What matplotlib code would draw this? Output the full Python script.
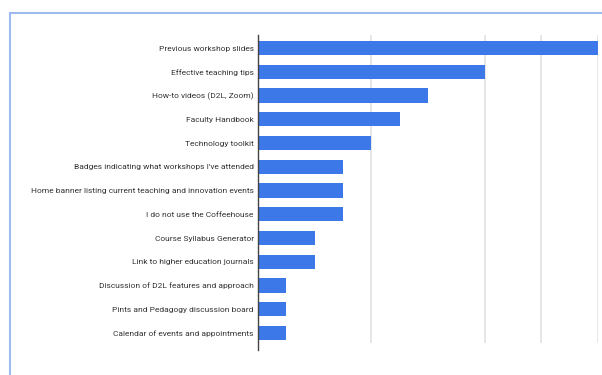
import matplotlib.pyplot as plt
from matplotlib.patches import Rectangle

labels = ['Previous workshop slides', 'Effective teaching tips', 'How-to videos (D2L, Zoom)',
          'Faculty Handbook', 'Technology toolkit', "Badges indicating what workshops I've attended",
          'Home banner listing current teaching and innovation events', 'I do not use the Coffeehouse',
          'Course Syllabus Generator', 'Link to higher education journals',
          'Discussion of D2L features and approach', 'Pints and Pedagogy discussion board',
          'Calendar of events and appointments']
counts = [12, 8, 6, 5, 4, 3, 3, 3, 2, 2, 1, 1, 1]
grid_at = [4, 8, 10, 12]

plt.rcParams['font.family'] = ['Roboto', 'DejaVu Sans']

fig = plt.figure(figsize=(6.02, 3.75), dpi=100)
# light blue frame round the screenshot
fig.patches.append(Rectangle((10 / 602, -0.05), 1.0, 1 - 13 / 375 + 0.05, transform=fig.transFigure,
                             fill=False, edgecolor='#9dbbf0', linewidth=1.5))

ax = fig.add_axes([258 / 602, 1 - 342.6 / 375, 340 / 602, 307.6 / 375])
ypos = list(range(len(labels)))
ax.barh(ypos, counts, height=0.6, color='#3c78e8', zorder=3)
ax.set_xlim(0, 12)
ax.set_ylim(12.4, -0.55)

for g in grid_at:
    ax.axvline(g, color='#e2e2e2', linewidth=1.2, zorder=1)
ax.axvline(0, ymin=-0.025, ymax=1, color='#444444', linewidth=1, clip_on=False, zorder=4)

ax.set_yticks(ypos)
ax.set_yticklabels(labels, fontsize=6, color='#333333')
ax.tick_params(axis='y', length=0, pad=3)
ax.set_xticks([])
for s in ax.spines.values():
    s.set_visible(False)

fig.savefig('out.png', dpi=100)
